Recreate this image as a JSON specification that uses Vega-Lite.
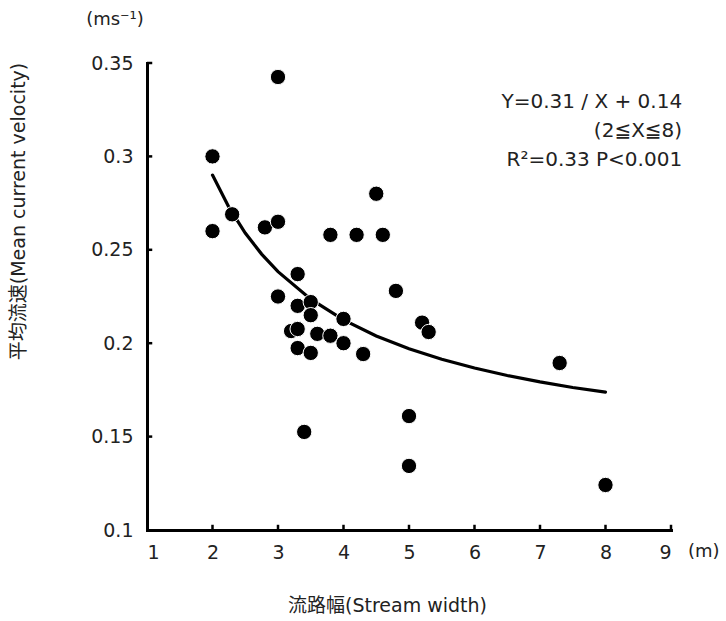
{
  "$schema": "https://vega.github.io/schema/vega-lite/v6.json",
  "width": 524,
  "height": 467,
  "autosize": {"type": "none"},
  "padding": {"left": 147, "top": 63, "right": 55, "bottom": 91},
  "background": "white",
  "config": {
    "view": {"stroke": null},
    "font": "DejaVu Sans, Noto Sans CJK JP",
    "axis": {"grid": false, "ticks": false, "domainColor": "black", "domainWidth": 3, "domainCap": "square", "labelColor": "#222", "titleColor": "#222", "labelFont": "DejaVu Sans, Noto Sans CJK JP", "titleFont": "DejaVu Sans, Noto Sans CJK JP", "labelFontSize": 19, "titleFontSize": 19, "titleFontWeight": "normal"}
  },
  "datasets": {
    "pts": [
      {"w": 3.0, "v": 0.3425},
      {"w": 2.0, "v": 0.300},
      {"w": 2.0, "v": 0.260},
      {"w": 2.3, "v": 0.269},
      {"w": 2.8, "v": 0.262},
      {"w": 3.0, "v": 0.265},
      {"w": 3.8, "v": 0.258},
      {"w": 4.2, "v": 0.258},
      {"w": 4.6, "v": 0.258},
      {"w": 4.5, "v": 0.280},
      {"w": 3.3, "v": 0.237},
      {"w": 3.0, "v": 0.225},
      {"w": 4.8, "v": 0.228},
      {"w": 3.3, "v": 0.220},
      {"w": 3.5, "v": 0.222},
      {"w": 3.5, "v": 0.215},
      {"w": 4.0, "v": 0.213},
      {"w": 5.2, "v": 0.211},
      {"w": 5.3, "v": 0.206},
      {"w": 3.2, "v": 0.2065},
      {"w": 3.3, "v": 0.2076},
      {"w": 3.6, "v": 0.205},
      {"w": 3.8, "v": 0.204},
      {"w": 4.0, "v": 0.200},
      {"w": 3.3, "v": 0.1974},
      {"w": 3.5, "v": 0.1948},
      {"w": 4.3, "v": 0.1942},
      {"w": 3.4, "v": 0.1525},
      {"w": 5.0, "v": 0.161},
      {"w": 5.0, "v": 0.1343},
      {"w": 7.3, "v": 0.1894},
      {"w": 8.0, "v": 0.1241}
    ],
    "fit": [
      {"w": 2.0, "v": 0.2900},
      {"w": 2.25, "v": 0.2728},
      {"w": 2.5, "v": 0.2590},
      {"w": 2.75, "v": 0.2477},
      {"w": 3.0, "v": 0.2383},
      {"w": 3.5, "v": 0.2236},
      {"w": 4.0, "v": 0.2125},
      {"w": 4.5, "v": 0.2039},
      {"w": 5.0, "v": 0.1970},
      {"w": 5.5, "v": 0.1914},
      {"w": 6.0, "v": 0.1867},
      {"w": 6.5, "v": 0.1827},
      {"w": 7.0, "v": 0.1793},
      {"w": 7.5, "v": 0.1763},
      {"w": 8.0, "v": 0.1738}
    ],
    "xticks": [{"w": 2}, {"w": 3}, {"w": 4}, {"w": 5}, {"w": 6}, {"w": 7}, {"w": 8}, {"w": 9}],
    "yticks": [{"v": 0.15}, {"v": 0.2}, {"v": 0.25}, {"v": 0.3}, {"v": 0.35}],
    "eq": [
      {"w": 9.17, "v": 0.3291, "t": "Y=0.31 / X + 0.14"},
      {"w": 9.17, "v": 0.3136, "t": "(2≦X≦8)"},
      {"w": 9.17, "v": 0.2981, "t": "R²=0.33 P<0.001"}
    ],
    "units": [
      {"w": 0.511, "v": 0.373, "t": "(ms⁻¹)"},
      {"w": 9.50, "v": 0.0882, "t": "(m)"}
    ]
  },
  "layer": [
    {
      "data": {"name": "fit"},
      "mark": {"type": "line", "color": "black", "strokeWidth": 3.2, "strokeCap": "round"},
      "encoding": {
        "x": {"field": "w", "type": "quantitative", "scale": {"domain": [1, 9], "nice": false, "zero": false},
          "axis": {"values": [1,2,3,4,5,6,7,8,9], "labelExpr": "format(datum.value, '~g')", "labelPadding": 13,
            "title": "流路幅(Stream width)", "titleX": 240, "titleY": 75, "titleBaseline": "middle", "titleAnchor": "middle", "titleAlign": "center"}},
        "y": {"field": "v", "type": "quantitative", "scale": {"domain": [0.1, 0.35], "nice": false, "zero": false},
          "axis": {"values": [0.1,0.15,0.2,0.25,0.3,0.35], "labelExpr": "format(datum.value, '~g')", "labelPadding": 14,
            "title": "平均流速(Mean current velocity)", "titleX": -129, "titleY": 148, "titleAngle": -90, "titleBaseline": "middle", "titleAlign": "center"}}
      }
    },
    {
      "data": {"name": "xticks"},
      "mark": {"type": "rule", "color": "black", "strokeWidth": 2.5},
      "encoding": {
        "x": {"field": "w", "type": "quantitative"},
        "y": {"datum": 0.1},
        "y2": {"datum": 0.1028}
      }
    },
    {
      "data": {"name": "yticks"},
      "mark": {"type": "rule", "color": "black", "strokeWidth": 2.5},
      "encoding": {
        "y": {"field": "v", "type": "quantitative"},
        "x": {"datum": 1},
        "x2": {"datum": 1.08}
      }
    },
    {
      "data": {"name": "pts"},
      "mark": {"type": "circle", "color": "black", "opacity": 1, "size": 235, "stroke": "white", "strokeWidth": 1},
      "encoding": {
        "x": {"field": "w", "type": "quantitative"},
        "y": {"field": "v", "type": "quantitative"}
      }
    },
    {
      "data": {"name": "eq"},
      "mark": {"type": "text", "color": "#222", "clip": false, "baseline": "middle", "align": "right", "fontSize": 20},
      "encoding": {
        "x": {"field": "w", "type": "quantitative"},
        "y": {"field": "v", "type": "quantitative"},
        "text": {"field": "t"}
      }
    },
    {
      "data": {"name": "units"},
      "mark": {"type": "text", "color": "#222", "clip": false, "baseline": "middle", "align": "center", "fontSize": 18},
      "encoding": {
        "x": {"field": "w", "type": "quantitative"},
        "y": {"field": "v", "type": "quantitative"},
        "text": {"field": "t"}
      }
    }
  ]
}
